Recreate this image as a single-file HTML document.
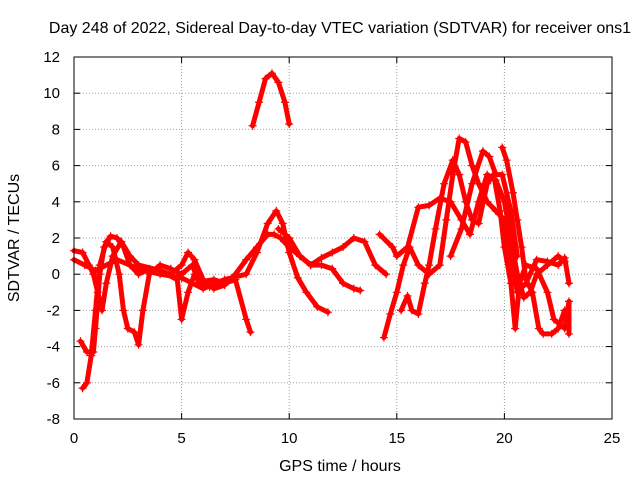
<!DOCTYPE html>
<html><head><meta charset="utf-8">
<style>
body{margin:0;background:#fff;}
svg{display:block;font-family:"Liberation Sans",sans-serif;}
</style></head>
<body>
<svg id="chart" width="640" height="480">
<rect x="0" y="0" width="640" height="480" fill="#fff"/>
<text x="340" y="33" text-anchor="middle" font-size="16" fill="#000">Day 248 of 2022, Sidereal Day-to-day VTEC variation (SDTVAR) for receiver ons1</text>
<text x="340" y="471" text-anchor="middle" font-size="16" fill="#000">GPS time / hours</text>
<text x="0" y="0" transform="translate(19,238) rotate(-90)" text-anchor="middle" font-size="16" fill="#000">SDTVAR / TECUs</text>
<g id="grid"></g>
<g id="series"></g>
<rect x="74" y="57" width="538" height="362" fill="none" stroke="#000" stroke-width="1"/>
</svg>
<script>
const xTicks=[0,5,10,15,20,25];
const yTicks=[-8,-6,-4,-2,0,2,4,6,8,10,12];
const trackA=[[8.3,8.2],[8.6,9.5],[8.9,10.8],[9.2,11.1],[9.5,10.6],[9.8,9.5],[10.0,8.3]];
const trackB1=[[0.3,-3.7],[0.6,-4.3],[0.9,-4.3],[1.0,-3],[1.1,-1.5],[1.2,0],[1.4,1.5],[1.7,2.1],[2.0,2],[2.3,1.5],[2.6,0.5],[3.0,0],[3.5,0.3],[4.0,0.2],[4.5,0],[5.0,0.5],[5.3,1.2],[5.6,0.8],[6,-0.3],[6.5,-0.8],[7,-0.6],[7.5,0],[8,0.8],[8.5,1.5],[9,2.2],[9.3,2.2],[9.6,2],[10,1.5],[10.5,1],[11,0.5],[11.5,0.9],[12,1.2],[12.5,1.5],[13,2],[13.5,1.8],[14,0.5],[14.5,0]];
const trackB2=[[0.4,-6.3],[0.6,-6],[0.8,-4.5],[1.0,-2],[1.2,0.5],[1.5,1.8],[1.8,1.5],[2.1,0],[2.3,-2],[2.5,-3],[2.8,-3.2],[3.0,-3.9],[3.2,-2],[3.5,0],[4,0.5],[4.5,0.3],[5,0],[5.5,0.5],[5.8,-0.5],[6.3,-0.7],[7,-0.5],[7.5,-0.3],[8,-2.5],[8.2,-3.2]];
const trackB3=[[0,1.3],[0.4,1.2],[0.7,0.5],[0.9,0],[1.1,-1],[1.3,-2],[1.5,-0.5],[1.8,1],[2.2,1.8],[2.6,1],[3,0.5],[4,0.2],[4.8,-0.3],[5.0,-2.5],[5.3,-1],[5.6,0],[6,-0.4],[6.5,-0.3],[7,-0.5]];
const trackB4=[[0,0.8],[0.5,0.5],[1,0.2],[2,0.8],[3,0.3],[4,0],[5,-0.2],[6,-0.8],[7,-0.3],[8,0],[8.5,1.2],[9,2.8],[9.4,3.5],[9.7,2.8],[10,1.2],[10.4,-0.2],[10.8,-1],[11.3,-1.8],[11.8,-2.1]];
const trackB5=[[9.5,2.5],[10,2],[10.5,1],[11,0.5],[11.5,0.5],[12,0.3],[12.5,-0.5],[13,-0.8],[13.3,-0.9]];
const trackC1=[[14.4,-3.5],[14.7,-2.2],[15,-1],[15.3,0.5],[15.6,1.5],[16,0.5],[16.5,0],[17,0.5],[17.3,3],[17.6,5.5],[17.9,7.5],[18.2,7.3],[18.5,6],[18.8,5],[19.2,4],[19.6,3.5],[20,3],[20.3,1],[20.6,-1],[21,-0.5],[21.5,0.8],[22,0.7],[22.5,0.5],[22.8,0.9],[23,-0.5]];
const trackC2=[[15.2,-2],[15.5,-1.2],[15.7,-2],[16,-2.2],[16.3,-0.5],[16.5,0.5],[16.8,2.5],[17.2,5],[17.6,6.3],[17.9,5.5],[18.2,4],[18.5,3],[18.8,2.8],[19.2,5],[19.5,5.5],[19.8,3.5],[20,1.5],[20.3,-0.5],[20.5,-3],[20.7,-0.5],[21,0.5],[21.5,0.3],[22,-1],[22.3,-2.5],[22.8,-3],[23,-1.5],[23,-3.3]];
const trackC3=[[14.2,2.2],[14.8,1.5],[15,1],[15.5,1.5],[16,3.7],[16.5,3.8],[17,4.2],[17.5,4],[18,3],[18.4,2.2],[18.8,4],[19.2,5.5],[19.6,5.2],[20,4],[20.3,2],[20.6,0],[20.9,-1.3],[21.2,-1],[21.5,0],[22,0.5],[22.5,1],[22.8,0.7]];
const trackC4=[[19.9,7],[20.1,6.3],[20.4,4.5],[20.6,3],[20.8,1.5],[21,-0.3],[21.3,-1],[21.6,-3],[21.8,-3.3],[22.2,-3.3],[22.5,-3],[22.8,-2]];
const trackC5=[[17.5,1],[18,2.5],[18.5,5],[19,6.8],[19.3,6.5],[19.6,5.5],[19.9,5.5],[20.3,3.5],[20.6,1]];
const tracks=[trackA,trackB1,trackB2,trackB3,trackB4,trackB5,trackC1,trackC2,trackC3,trackC4,trackC5];

const L=74,R=612,T=57,B=419,X0=0,X1=25,Y0=-8,Y1=12;
const sx=v=>L+(v-X0)/(X1-X0)*(R-L);
const sy=v=>B-(v-Y0)/(Y1-Y0)*(B-T);
const NS="http://www.w3.org/2000/svg";
const grid=document.getElementById('grid');
const ser=document.getElementById('series');
function mk(tag,attrs,parent){const e=document.createElementNS(NS,tag);for(const k in attrs)e.setAttribute(k,attrs[k]);parent.appendChild(e);return e;}
xTicks.forEach(t=>{
  const x=sx(t);
  if(t>X0&&t<X1){const g=mk('line',{x1:x,x2:x,y1:T,y2:B,stroke:'#a0a0a0','stroke-dasharray':'1,2'},grid);
  
  }
  mk('line',{x1:x,x2:x,y1:B,y2:B-6,stroke:'#000'},grid);
  mk('line',{x1:x,x2:x,y1:T,y2:T+6,stroke:'#000'},grid);
  const lb=mk('text',{x:x,y:B+24,'text-anchor':'middle','font-size':'15'},grid);
  lb.textContent=t;
  
  
});
yTicks.forEach(t=>{
  const y=sy(t);
  if(t>Y0&&t<Y1){const g=mk('line',{x1:L,x2:R,y1:y,y2:y,stroke:'#a0a0a0','stroke-dasharray':'1,2'},grid);
  
  }
  mk('line',{x1:L,x2:L+6,y1:y,y2:y,stroke:'#000'},grid);
  mk('line',{x1:R,x2:R-6,y1:y,y2:y,stroke:'#000'},grid);
  const lb=mk('text',{x:L-14,y:y+5,'text-anchor':'end','font-size':'15'},grid);
  lb.textContent=t;
  
  
});
tracks.forEach((tr,i)=>{
  const pts=tr.map(p=>sx(p[0]).toFixed(1)+','+sy(p[1]).toFixed(1)).join(' ');
  const pl=mk('polyline',{points:pts,fill:'none',stroke:'#ff0000','stroke-width':5,'stroke-linejoin':'round','stroke-linecap':'round'},ser);
  
  
  tr.forEach(p=>{
    const x=sx(p[0]),y=sy(p[1]);
    const m=mk('path',{d:`M${x-4},${y}H${x+4}M${x},${y-4}V${y+4}`,stroke:'#ff0000','stroke-width':1.2},ser);
    
    
  });
});
</script>
</body></html>
